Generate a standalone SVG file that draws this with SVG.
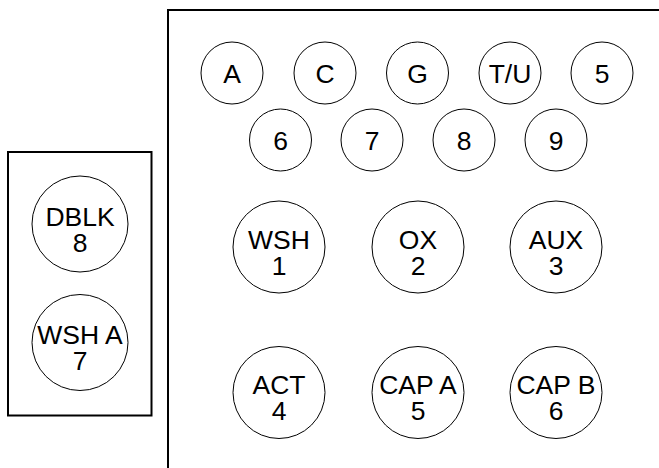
<svg xmlns="http://www.w3.org/2000/svg" width="659" height="468" viewBox="0 0 659 468">
<style>
.frame{fill:none;stroke:#000;stroke-width:2}
.c{fill:#fff;stroke:#000;stroke-width:1}
text{font-family:"Liberation Sans",Arial,sans-serif;font-size:26.5px;fill:#000;text-anchor:middle}
</style>
<rect width="659" height="468" fill="#fff"/>
<g id="frames">
<rect class="frame" x="8" y="152" width="143.5" height="263.5"/>
<polyline class="frame" points="168,468 168,10 659,10"/>
</g>
<g id="n-A"><circle class="c" cx="232" cy="73" r="31"/><text x="232" y="83">A</text></g>
<g id="n-C"><circle class="c" cx="325" cy="73" r="31"/><text x="325" y="83">C</text></g>
<g id="n-G"><circle class="c" cx="417.5" cy="73" r="31"/><text x="417.5" y="83">G</text></g>
<g id="n-TU"><circle class="c" cx="510" cy="73" r="31"/><text x="510" y="83">T/U</text></g>
<g id="n-5"><circle class="c" cx="602" cy="73" r="31"/><text x="602" y="83">5</text></g>
<g id="n-6"><circle class="c" cx="280.5" cy="140" r="31"/><text x="280.5" y="150">6</text></g>
<g id="n-7"><circle class="c" cx="372" cy="140" r="31"/><text x="372" y="150">7</text></g>
<g id="n-8"><circle class="c" cx="464" cy="140" r="31"/><text x="464" y="150">8</text></g>
<g id="n-9"><circle class="c" cx="556" cy="140" r="31"/><text x="556" y="150">9</text></g>
<g id="n-WSH1"><circle class="c" cx="279" cy="247" r="46"/><text x="279" y="248.5">WSH</text><text x="279" y="274.5">1</text></g>
<g id="n-OX2"><circle class="c" cx="418" cy="247" r="46"/><text x="418" y="248.5">OX</text><text x="418" y="274.5">2</text></g>
<g id="n-AUX3"><circle class="c" cx="556" cy="247" r="46"/><text x="556" y="248.5">AUX</text><text x="556" y="274.5">3</text></g>
<g id="n-ACT4"><circle class="c" cx="279" cy="392.5" r="46"/><text x="279" y="394">ACT</text><text x="279" y="420">4</text></g>
<g id="n-CAPA5"><circle class="c" cx="418" cy="392.5" r="46"/><text x="418" y="394">CAP A</text><text x="418" y="420">5</text></g>
<g id="n-CAPB6"><circle class="c" cx="556" cy="392.5" r="46"/><text x="556" y="394">CAP B</text><text x="556" y="420">6</text></g>
<g id="n-DBLK8"><circle class="c" cx="80" cy="224" r="48"/><text x="80" y="225.5">DBLK</text><text x="80" y="251.5">8</text></g>
<g id="n-WSHA7"><circle class="c" cx="80" cy="342.5" r="48"/><text x="80" y="344">WSH A</text><text x="80" y="370">7</text></g>
<g id="connectors"></g>
</svg>
